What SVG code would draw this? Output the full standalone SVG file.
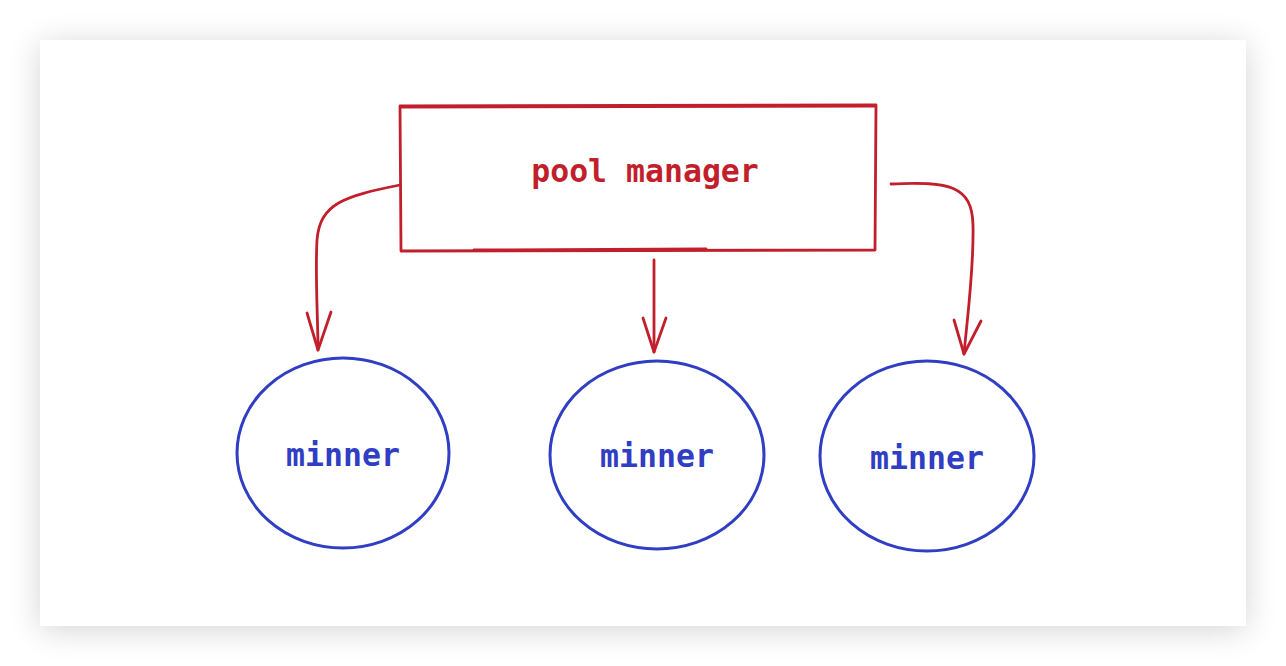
<svg xmlns="http://www.w3.org/2000/svg" width="1286" height="666" viewBox="0 0 1286 666">
<defs>
<filter id="sh" x="-10%" y="-10%" width="120%" height="120%">
<feGaussianBlur stdDeviation="16"/>
</filter>
<style>
.red{fill:none;stroke:#c21f2c;stroke-width:2.8;stroke-linecap:round;stroke-linejoin:round}
.blue{fill:none;stroke:#2f3ec2;stroke-width:3;stroke-linecap:round}
.tr{font-family:"DejaVu Sans Mono","Liberation Mono",monospace;font-size:31.5px;font-weight:600;fill:#c21f2c;text-anchor:middle}
.tb{font-family:"DejaVu Sans Mono","Liberation Mono",monospace;font-size:31.5px;font-weight:bold;fill:#2f3ec2;text-anchor:middle}
</style>
</defs>
<rect width="1286" height="666" fill="#ffffff"/>
<rect x="40" y="44" width="1206" height="586" fill="#000" opacity="0.17" filter="url(#sh)"/>
<rect x="40" y="40" width="1206" height="586" fill="#ffffff"/>
<g id="pool-manager">
<path class="red" d="M400 106 L876 105 L875 250 L401 251 Z"/>
<path class="red" d="M401 107 L875 106 M474 250 L706 249" stroke-width="1.4"/>
<text class="tr" x="645" y="182">pool manager</text>
</g>
<g id="minner-1">
<ellipse class="blue" cx="343" cy="453" rx="106" ry="95"/>
<text class="tb" x="343" y="466">minner</text>
</g>
<g id="minner-2">
<ellipse class="blue" cx="657" cy="455" rx="107" ry="94"/>
<text class="tb" x="657" y="467">minner</text>
</g>
<g id="minner-3">
<ellipse class="blue" cx="927" cy="456" rx="107" ry="95"/>
<text class="tb" x="927" y="469">minner</text>
</g>
<g id="connectors">
<path class="red" d="M400 185 C345 196 320 203 317 240 C315 275 318 320 318 350"/>
<path class="red" d="M307 313 L318 350 L331 312"/>
<path class="red" d="M654 260 L654 352"/>
<path class="red" d="M643 318 L654 352 L666 318"/>
<path class="red" d="M891 184 C950 181 972 186 973 225 C974 270 967 320 964 354"/>
<path class="red" d="M954 320 L964 354 L981 321"/>
</g>
</svg>
